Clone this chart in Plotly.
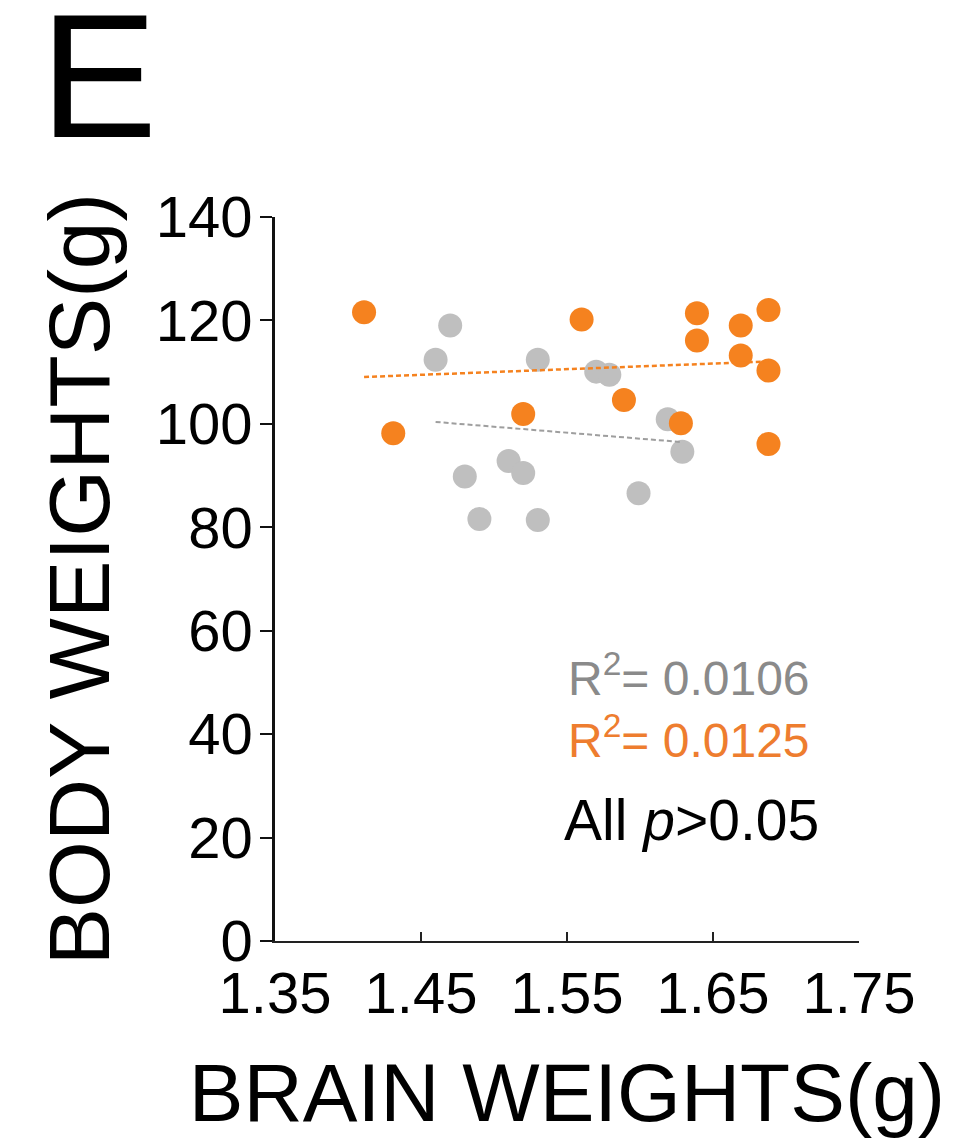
import numpy as np
import plotly.graph_objects as go

# ---- data ----
gray_x = [1.470, 1.460, 1.530, 1.510, 1.520, 1.480, 1.490, 1.530, 1.570, 1.579, 1.619, 1.629, 1.599]
gray_y = [119.0, 112.4, 112.4, 92.8, 90.5, 89.8, 81.6, 81.4, 110.1, 109.5, 100.9, 94.6, 86.6]
orange_x = [1.411, 1.431, 1.520, 1.560, 1.639, 1.639, 1.669, 1.688, 1.669, 1.688, 1.589, 1.628, 1.688]
orange_y = [121.6, 98.2, 101.9, 120.2, 121.4, 116.1, 119.0, 122.0, 113.2, 110.3, 104.6, 100.1, 96.1]

x_ticks = [1.35, 1.45, 1.55, 1.65, 1.75]
x_tick_labels = ["1.35", "1.45", "1.55", "1.65", "1.75"]
y_ticks = [0, 20, 40, 60, 80, 100, 120, 140]
r2_labels = ["R<sup>2</sup>= 0.0106", "R<sup>2</sup>= 0.0125"]
p_label = "All <i>p</i>&gt;0.05"
panel_label = "E"

GRAY = "#bfbfbf"
GRAY_LINE = "#9e9e9e"
GRAY_TEXT = "#8a8a8a"
ORANGE = "#f5821f"
ORANGE_TEXT = "#ee7d2f"
FONT = "Arial, 'Liberation Sans', Helvetica, sans-serif"

# the page body adds an 8px margin, so the figure is 8px smaller
W, H = 961, 1131
L, R, T, B = 267, 110, 209, 198
PW, PH = W - L - R, H - T - B


def px_x(px):
    return (px - 8 - L) / PW


def px_y(py):
    return (H - B - (py - 8)) / PH


def fit_line(xs, ys):
    xs = np.asarray(xs)
    ys = np.asarray(ys)
    m, b = np.polyfit(xs, ys, 1)
    lx = np.array([xs.min(), xs.max()])
    return lx, m * lx + b


fig = go.Figure()

fig.add_trace(go.Scatter(x=gray_x, y=gray_y, mode="markers",
                         marker=dict(size=24, color=GRAY, line=dict(width=0)),
                         showlegend=False))
fig.add_trace(go.Scatter(x=orange_x, y=orange_y, mode="markers",
                         marker=dict(size=24, color=ORANGE, line=dict(width=0)),
                         showlegend=False))

gx, gy = fit_line(gray_x, gray_y)
ox, oy = fit_line(orange_x, orange_y)
fig.add_trace(go.Scatter(x=gx, y=gy, mode="lines",
                         line=dict(color=GRAY_LINE, width=2, dash="5px,3px"),
                         showlegend=False))
fig.add_trace(go.Scatter(x=ox, y=oy, mode="lines",
                         line=dict(color=ORANGE, width=2.5, dash="5px,3px"),
                         showlegend=False))

fig.update_layout(
    width=W, height=H,
    margin=dict(l=L, r=R, t=T, b=B),
    paper_bgcolor="white", plot_bgcolor="white",
    font=dict(family=FONT, color="black"),
    xaxis=dict(
        range=[1.35, 1.75], tickvals=x_ticks, ticktext=x_tick_labels,
        showgrid=False, zeroline=False, showline=True,
        linecolor="#222222", linewidth=2,
        ticks="inside", ticklen=9, tickwidth=1.5, tickcolor="#222222",
        tickfont=dict(size=58, family=FONT, color="black"),
        title=dict(text="BRAIN WEIGHTS(g)", font=dict(size=82, family=FONT, color="black"),
                   standoff=40),
    ),
    yaxis=dict(
        range=[0, 140], tickvals=y_ticks,
        showgrid=False, zeroline=False, showline=True,
        linecolor="#111111", linewidth=2.5,
        ticks="outside", ticklen=12, tickwidth=2, tickcolor="#111111",
        ticklabelstandoff=-4,
        tickfont=dict(size=58, family=FONT, color="black"),
        title=dict(text="BODY WEIGHTS(g)", font=dict(size=86, family=FONT, color="black"),
                   standoff=18),
    ),
    annotations=[
        dict(text=r2_labels[0], xref="paper", yref="paper",
             x=px_x(566), y=px_y(675), xanchor="left", yanchor="middle",
             showarrow=False, font=dict(size=48, family=FONT, color=GRAY_TEXT)),
        dict(text=r2_labels[1], xref="paper", yref="paper",
             x=px_x(566), y=px_y(737), xanchor="left", yanchor="middle",
             showarrow=False, font=dict(size=48, family=FONT, color=ORANGE_TEXT)),
        dict(text=p_label, xref="paper", yref="paper",
             x=px_x(562), y=px_y(820), xanchor="left", yanchor="middle",
             showarrow=False, font=dict(size=57, family=FONT, color="black")),
        dict(text=panel_label, xref="paper", yref="paper",
             x=px_x(38), y=px_y(76), xanchor="left", yanchor="middle",
             showarrow=False, font=dict(size=176, family=FONT, color="black")),
    ],
)

fig.write_html("out.html")
